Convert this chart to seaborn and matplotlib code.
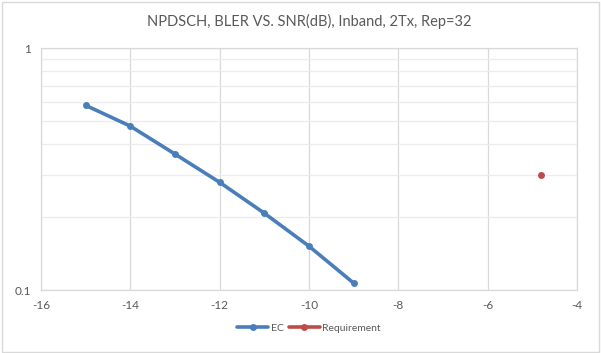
import matplotlib
matplotlib.use("Agg")
import matplotlib.pyplot as plt
import seaborn as sns
import pandas as pd
from matplotlib.ticker import FixedLocator, NullFormatter

snr_ec = [-15, -14, -13, -12, -11, -10, -9]
bler_ec = [0.58, 0.476, 0.365, 0.279, 0.208, 0.152, 0.107]
snr_req = [-4.8]
bler_req = [0.3]
x_ticks = [-16, -14, -12, -10, -8, -6, -4]

sns.set_theme(style="white")
plt.rcParams['font.family'] = ['Lato', 'DejaVu Sans']

ec = pd.DataFrame({'snr': snr_ec, 'bler': bler_ec})
req = pd.DataFrame({'snr': snr_req, 'bler': bler_req})

fig = plt.figure(figsize=(6.01, 3.53), dpi=100)
ax = fig.add_axes([0.068, 0.178, 0.892, 0.686])

blue = '#4a7ebb'
red = '#be4b48'
sns.lineplot(data=ec, x='snr', y='bler', ax=ax, color=blue, linewidth=2.6,
             marker='o', markersize=5, markeredgewidth=0, label='EC')
sns.lineplot(data=req, x='snr', y='bler', ax=ax, color=red, linewidth=2.6,
             marker='o', markersize=5, markeredgewidth=0, label='Requirement')

ax.set_yscale('log')
ax.set_ylim(0.1, 1)
ax.set_xlim(-16, -4)
ax.set_xticks(x_ticks)
ax.set_xticklabels([str(t) for t in x_ticks])
ax.set_yticks([0.1, 1])
ax.set_yticklabels(['0.1', '1'])
ax.yaxis.set_minor_locator(FixedLocator([0.2, 0.3, 0.4, 0.5, 0.6, 0.7, 0.8, 0.9]))
ax.yaxis.set_minor_formatter(NullFormatter())

ax.grid(True, axis='x', which='major', color='#d9d9d9', linewidth=0.9)
ax.grid(True, axis='y', which='major', color='#d9d9d9', linewidth=0.9)
ax.grid(True, axis='y', which='minor', color='#ececec', linewidth=0.9)
ax.set_axisbelow(True)
for s in ax.spines.values():
    s.set_color('#d9d9d9')
    s.set_linewidth(0.9)

ax.tick_params(axis='both', which='both', length=0, labelsize=8.5,
               labelcolor='#595959', pad=7)
ax.set_xlabel('')
ax.set_ylabel('')

ax.set_title('NPDSCH, BLER VS. SNR(dB), Inband, 2Tx, Rep=32', fontsize=10.5,
             color='#595959', pad=16)

leg = ax.legend(loc='upper center', bbox_to_anchor=(0.5, -0.1), ncol=2,
                frameon=False, fontsize=7.5, handlelength=3, columnspacing=0.5,
                handletextpad=0.2, labelcolor='#595959')

fig.patches.append(plt.Rectangle((0.003, 0.004), 0.994, 0.99, transform=fig.transFigure,
                                 fill=False, edgecolor='#d9d9d9', linewidth=1))

fig.savefig('out.png', dpi=100)
